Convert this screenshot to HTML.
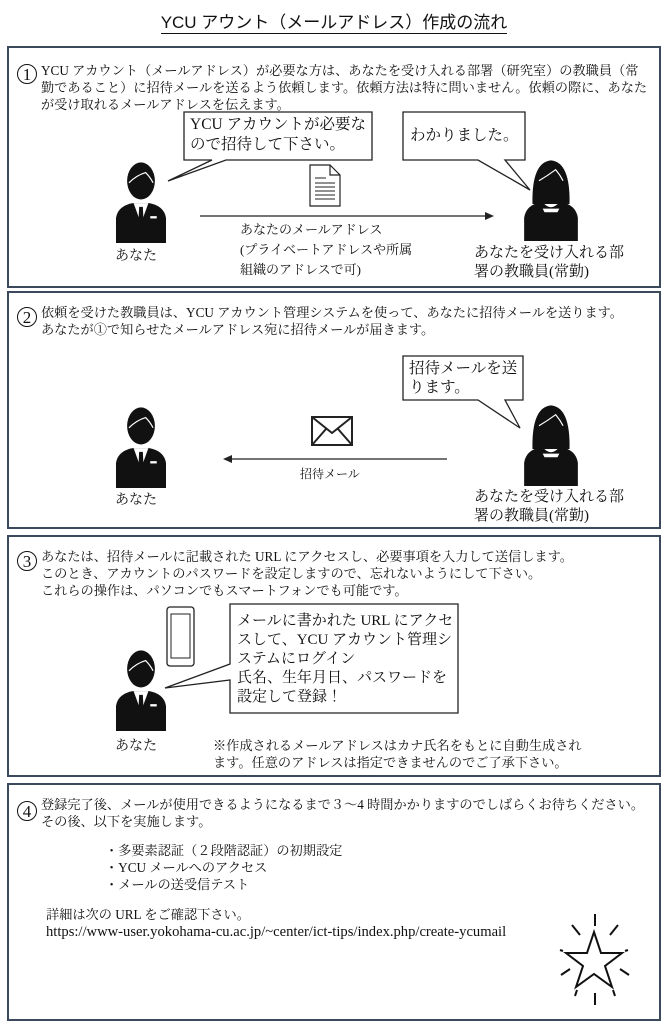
<!DOCTYPE html>
<html><head><meta charset="utf-8">
<style>
body{margin:0;background:#fff;}
#p{position:relative;width:668px;height:1024px;overflow:hidden;font-family:"Liberation Serif","Noto Serif CJK JP",serif;color:#111;}
.a{position:absolute;white-space:nowrap;}
.box{position:absolute;border:2px solid #3b4a5a;box-sizing:border-box;}
.t{font-size:13.2px;line-height:17px;}
.n{position:absolute;width:20px;height:20px;border:1.3px solid #111;border-radius:50%;text-align:center;box-sizing:border-box;font-size:17px;line-height:19px;}
svg{position:absolute;overflow:visible;}
</style></head><body><div id="p">
<svg width="0" height="0"><defs>
<symbol id="man" viewBox="0 0 70 95">
<path d="M8 95 L8 68 Q10 55 26 52 L44 52 Q60 55 62 68 L62 95 Z" fill="#111"/>
<path d="M27 52 L35 74 L43 52 Z" fill="#fff"/>
<path d="M33 56 L37 56 L38 78 L35 84 L32 78 Z" fill="#111"/>
<rect x="45" y="66" width="7" height="2.5" fill="#fff"/>
<ellipse cx="35" cy="28" rx="15" ry="20" fill="#111"/>
<path d="M22 30 Q30 22 40 19 Q45 24 48 30" fill="none" stroke="#fff" stroke-width="1.3"/>
</symbol>
<symbol id="wom" viewBox="0 0 70 95">
<path d="M6 95 L6 70 Q8 56 24 53 L46 53 Q62 56 64 70 L64 95 Z" fill="#111"/>
<path d="M26 53 Q35 64 44 53 Z" fill="#fff"/>
<path d="M15 55 Q14 10 35 8 Q56 10 55 55 Z" fill="#111"/>
<path d="M22 30 Q32 24 40 18 Q45 24 48 30" fill="none" stroke="#fff" stroke-width="1.3"/>
<path d="M26 60 L44 60 L42 64 L28 64 Z" fill="#fff"/>
</symbol>
</defs></svg>

<div class="a" style="left:0;width:668px;top:8px;text-align:center;font-family:'Liberation Sans','Noto Sans CJK JP',sans-serif;font-size:17px;">
<span style="border-bottom:1.5px solid #111;padding-bottom:1px">YCU アウント（メールアドレス）作成の流れ</span></div>

<!-- box1 -->
<div class="box" style="left:7px;top:46px;width:654px;height:242px"></div>
<div class="n" style="left:17px;top:64px">1</div>
<div class="a t" style="left:41px;top:62px">YCU アカウント（メールアドレス）が必要な方は、あなたを受け入れる部署（研究室）の教職員（常<br>勤であること）に招待メールを送るよう依頼します。依頼方法は特に問いません。依頼の際に、あなた<br>が受け取れるメールアドレスを伝えます。</div>
<svg style="left:0;top:0" width="668" height="300">
<path d="M184 112 L372 112 L372 160 L226 160 L168 181 L212 160 L184 160 Z" fill="#fff" stroke="#222" stroke-width="1.3"/>
<path d="M403 112 L525 112 L525 160 L505 160 L530 190 L478 160 L403 160 Z" fill="#fff" stroke="#222" stroke-width="1.3"/>
<path d="M310 165 L330 165 L340 175 L340 206 L310 206 Z M330 165 L330 175 L340 175" fill="#fff" stroke="#222" stroke-width="1.2"/>
<g stroke="#222" stroke-width="1"><line x1="315" y1="178" x2="326" y2="178"/><line x1="315" y1="183" x2="335" y2="183"/><line x1="315" y1="187" x2="335" y2="187"/><line x1="315" y1="191" x2="335" y2="191"/><line x1="315" y1="195" x2="335" y2="195"/><line x1="315" y1="199" x2="335" y2="199"/></g>
<line x1="200" y1="216" x2="486" y2="216" stroke="#222" stroke-width="1.2"/>
<path d="M494 216 L485 212 L485 220 Z" fill="#222"/>
</svg>
<div class="a" style="left:190px;top:115px;font-size:15.5px;line-height:20px">YCU アカウントが必要な<br>ので招待して下さい。</div>
<div class="a" style="left:410px;top:123px;font-size:15.5px">わかりました。</div>
<svg style="left:108px;top:155px" width="66" height="88"><use href="#man"/></svg>
<svg style="left:518px;top:153px" width="66" height="88"><use href="#wom"/></svg>
<div class="a" style="left:115px;top:245px;font-size:14px">あなた</div>
<div class="a" style="left:240px;top:220px;font-size:13px;line-height:20px">あなたのメールアドレス<br>(プライベートアドレスや所属<br>組織のアドレスで可)</div>
<div class="a" style="left:474px;top:244px;font-size:15px;line-height:19px">あなたを受け入れる部<br>署の教職員(常勤)</div>

<!-- box2 -->
<div class="box" style="left:7px;top:291px;width:654px;height:238px"></div>
<div class="n" style="left:17px;top:307px">2</div>
<div class="a t" style="left:41px;top:304px">依頼を受けた教職員は、YCU アカウント管理システムを使って、あなたに招待メールを送ります。<br>あなたが①で知らせたメールアドレス宛に招待メールが届きます。</div>
<svg style="left:0;top:0" width="668" height="540">
<path d="M403 356 L523 356 L523 400 L505 400 L520 428 L478 400 L403 400 Z" fill="#fff" stroke="#222" stroke-width="1.3"/>
<rect x="312" y="417" width="40" height="28" fill="#fff" stroke="#222" stroke-width="2"/>
<path d="M312 417 L332 433 L352 417 M312 445 L326 429 M352 445 L338 429" fill="none" stroke="#222" stroke-width="2"/>
<line x1="232" y1="459" x2="447" y2="459" stroke="#222" stroke-width="1.2"/>
<path d="M223 459 L232 455 L232 463 Z" fill="#222"/>
</svg>
<div class="a" style="left:409px;top:359px;font-size:15.5px;line-height:19px">招待メールを送<br>ります。</div>
<svg style="left:108px;top:400px" width="66" height="88"><use href="#man"/></svg>
<svg style="left:518px;top:398px" width="66" height="88"><use href="#wom"/></svg>
<div class="a" style="left:115px;top:489px;font-size:14px">あなた</div>
<div class="a" style="left:300px;top:465px;font-size:12px">招待メール</div>
<div class="a" style="left:474px;top:488px;font-size:15px;line-height:19px">あなたを受け入れる部<br>署の教職員(常勤)</div>

<!-- box3 -->
<div class="box" style="left:7px;top:535px;width:654px;height:242px"></div>
<div class="n" style="left:17px;top:551px">3</div>
<div class="a t" style="left:41px;top:548px">あなたは、招待メールに記載された URL にアクセスし、必要事項を入力して送信します。<br>このとき、アカウントのパスワードを設定しますので、忘れないようにして下さい。<br>これらの操作は、パソコンでもスマートフォンでも可能です。</div>
<svg style="left:0;top:0" width="668" height="780">
<rect x="167" y="607" width="27" height="59" rx="3" fill="#fff" stroke="#222" stroke-width="1.3"/>
<rect x="171" y="614" width="19" height="44" fill="#fff" stroke="#222" stroke-width="1"/>
<path d="M230 604 L458 604 L458 713 L230 713 L230 680 L165 688 L230 664 Z" fill="#fff" stroke="#222" stroke-width="1.3"/>
</svg>
<div class="a" style="left:237px;top:612px;font-size:15px;line-height:19px">メールに書かれた URL にアクセ<br>スして、YCU アカウント管理シ<br>ステムにログイン<br>氏名、生年月日、パスワードを<br>設定して登録！</div>
<svg style="left:108px;top:643px" width="66" height="88"><use href="#man"/></svg>
<div class="a" style="left:115px;top:735px;font-size:14px">あなた</div>
<div class="a t" style="left:213px;top:737px">※作成されるメールアドレスはカナ氏名をもとに自動生成され<br>ます。任意のアドレスは指定できませんのでご了承下さい。</div>

<!-- box4 -->
<div class="box" style="left:7px;top:783px;width:654px;height:238px"></div>
<div class="n" style="left:17px;top:801px">4</div>
<div class="a t" style="left:41px;top:796px">登録完了後、メールが使用できるようになるまで３～4 時間かかりますのでしばらくお待ちください。<br>その後、以下を実施します。</div>
<div class="a t" style="left:105px;top:842px">・多要素認証（２段階認証）の初期設定<br>・YCU メールへのアクセス<br>・メールの送受信テスト</div>
<div class="a t" style="left:46px;top:906px">詳細は次の URL をご確認下さい。<br><span style="font-size:14.6px">https://www-user.yokohama-cu.ac.jp/~center/ict-tips/index.php/create-ycumail</span></div>
<svg style="left:0;top:0" width="668" height="1024">
<path d="M594 932 L601 953 L622 953 L605 966 L612 987 L594 974 L576 987 L583 966 L566 953 L587 953 Z" fill="none" stroke="#111" stroke-width="2"/>
<g stroke="#111" stroke-width="2"><line x1="595" y1="914" x2="595" y2="926"/><line x1="595" y1="993" x2="595" y2="1005"/><line x1="572" y1="925" x2="580" y2="935"/><line x1="618" y1="925" x2="610" y2="935"/><line x1="560" y1="950" x2="563" y2="951"/><line x1="628" y1="950" x2="625" y2="951"/><line x1="561" y1="975" x2="570" y2="969"/><line x1="629" y1="975" x2="620" y2="969"/><line x1="575" y1="996" x2="577" y2="990"/><line x1="615" y1="996" x2="613" y2="990"/></g>
</svg>
</div></body></html>
